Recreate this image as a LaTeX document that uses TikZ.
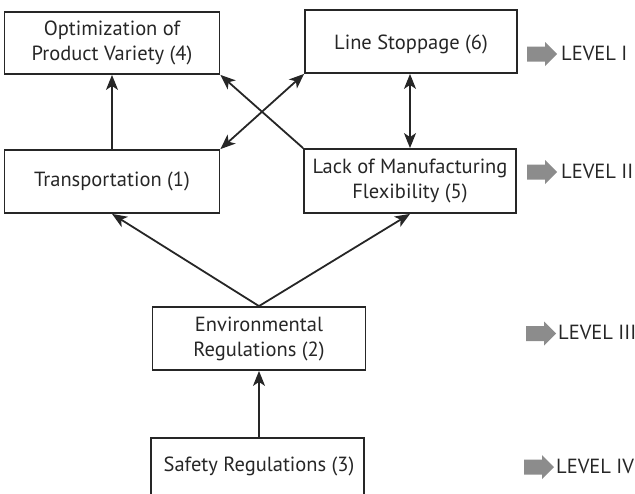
\documentclass[tikz,border=0pt]{standalone}
\usepackage{fontspec}
\setmainfont{PT Sans}
\usetikzlibrary{arrows.meta}
\definecolor{ink}{HTML}{262626}
\definecolor{levelgray}{HTML}{8C8C8C}
\begin{document}
\begin{tikzpicture}[x=1pt,y=-1pt,
  factor/.style={draw=ink, line width=1.8pt, text=ink, align=center,
    inner sep=0pt, font=\fontsize{20.5}{25}\selectfont},
  link/.style={draw=ink, line width=1.8pt, -{Stealth[length=15pt,width=12pt,inset=4pt]}},
  biglink/.style={draw=ink, line width=1.8pt,
    {Stealth[length=15pt,width=12pt,inset=4pt]}-{Stealth[length=15pt,width=12pt,inset=4pt]}},
  levelarrow/.style={fill=levelgray, draw=none},
  levellabel/.style={anchor=west, text=ink, inner sep=0pt,
    font=\fontsize{20.5}{25}\selectfont}]
\useasboundingbox (0,0) rectangle (635,493);
\clip (0,0) rectangle (635,493);

% factor boxes
\node[factor, minimum width=215pt, minimum height=62pt] (opt) at (112,43)
  {Optimization of\\Product Variety (4)};
\node[factor, minimum width=212pt, minimum height=63pt] (stop) at (411,41.5)
  {};
\node[text=ink, font=\fontsize{20.5}{25}\selectfont, inner sep=0pt] (stoptext) at (411,44)
  {Line Stoppage (6)};
\node[factor, minimum width=215pt, minimum height=63pt] (trans) at (112,181.5)
  {Transportation (1)};
\node[factor, minimum width=212pt, minimum height=64pt] (flex) at (410,181)
  {Lack of Manufacturing\\Flexibility (5)};
\node[factor, minimum width=213pt, minimum height=63pt] (env) at (259,338.5)
  {Environmental\\Regulations (2)};
% the lowest box runs past the lower edge
\node[factor, minimum width=213pt, minimum height=110pt] (safe) at (257.5,493) {};
\node[text=ink, font=\fontsize{20.5}{25}\selectfont, inner sep=0pt] (safetext) at (259,466)
  {Safety Regulations (3)};

% influence links
\draw[link] (trans.north) -- (opt.south);
\draw[biglink] (trans.north east) -- (stop.south west);
\draw[link] (flex.north west) -- (opt.south east);
\draw[biglink] (stop.south -| flex.north) -- (flex.north);
\draw[link] (env.north) -- (trans.south);
\draw[link] (env.north) -- (flex.south);
\draw[link] (safe.north -| env.south) -- (env.south);

% level markers: block arrow plus label
\foreach \name/\x/\y/\gap/\txt in {1/527/54/34/LEVEL I, 2/527/172/34/LEVEL II,
                                    3/526/333.5/32/LEVEL III, 4/524/467/32/LEVEL IV}{
  \coordinate (m\name) at (\x,\y);
  \fill[levelarrow] (m\name) ++(0,-7.5) -- ++(18,0) -- ++(0,-4.5) -- ++(12,12)
    -- ++(-12,12) -- ++(0,-4.5) -- ++(-18,0) -- cycle;
  \node[levellabel] (t\name) at ([xshift=\gap pt,yshift=1pt]m\name) {\txt};
}
\end{tikzpicture}
\end{document}
